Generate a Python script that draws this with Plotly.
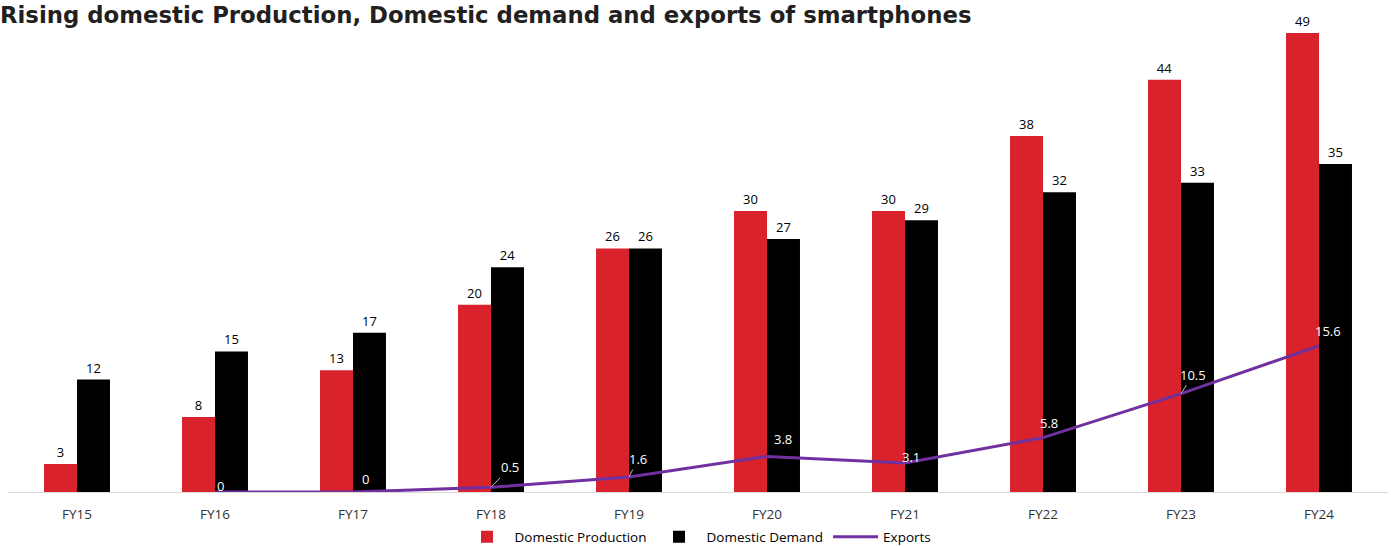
import plotly.graph_objects as go

categories = ["FY15", "FY16", "FY17", "FY18", "FY19", "FY20", "FY21", "FY22", "FY23", "FY24"]
production = [3, 8, 13, 20, 26, 30, 30, 38, 44, 49]
demand = [12, 15, 17, 24, 26, 27, 29, 32, 33, 35]
exports = [None, 0, 0, 0.5, 1.6, 3.8, 3.1, 5.8, 10.5, 15.6]
export_labels = ["", "0", "0", "0.5", "1.6", "3.8", "3.1", "5.8", "10.5", "15.6"]

# label offsets (style only)
label_dx = [0, 5, 12, 19, 9, 16, 6, 6, 12, 9]
label_dy = [0, -6, -13, -20, -18, -17, -6, -15, -19, -15]
leader = [False, False, False, True, True, False, False, False, True, False]

FONT = "Open Sans"
RED = "#DA222C"
PURPLE = "#7030A0"

fig = go.Figure()
fig.add_trace(go.Bar(
    x=categories, y=production, name="Domestic Production",
    marker=dict(color=RED, line=dict(width=0)),
    text=[str(v) for v in production], textposition="outside",
    textfont=dict(family=FONT, size=13, color="#000000"),
    cliponaxis=False,
))
fig.add_trace(go.Bar(
    x=categories, y=demand, name="Domestic Demand",
    marker=dict(color="#000000", line=dict(width=0)),
    text=[str(v) for v in demand], textposition="outside",
    textfont=dict(family=FONT, size=13, color="#000000"),
    cliponaxis=False,
))
fig.add_trace(go.Scatter(
    x=categories, y=exports, name="Exports", mode="lines",
    line=dict(color=PURPLE, width=3), cliponaxis=False,
))

for i, (c, v, t) in enumerate(zip(categories, exports, export_labels)):
    if v is None:
        continue
    if leader[i]:
        fig.add_annotation(
            x=c, y=v, text=t, showarrow=True, arrowhead=0, arrowwidth=1,
            arrowcolor="#BFBFBF", ax=label_dx[i], ay=label_dy[i],
            xanchor="center", yanchor="middle",
            font=dict(family=FONT, size=13, color="#FFFFFF"),
        )
    else:
        fig.add_annotation(
            x=c, y=v, text=t, showarrow=False,
            xshift=label_dx[i], yshift=-label_dy[i],
            xanchor="center", yanchor="middle",
            font=dict(family=FONT, size=13, color="#FFFFFF"),
        )

fig.update_layout(
    width=1391, height=546,
    margin=dict(l=8, r=3, t=10, b=54, autoexpand=False),
    paper_bgcolor="white", plot_bgcolor="white",
    barmode="group", bargap=0.522, bargroupgap=0,
    title=dict(
        text="<b>Rising domestic Production, Domestic demand and exports of smartphones</b>",
        x=0.0, xref="container", xanchor="left",
        y=0.988, yref="container", yanchor="top",
        font=dict(family="DejaVu Sans", size=22.8, color="#231F20"),
        pad=dict(t=0, l=0),
    ),
    showlegend=True,
    legend=dict(
        orientation="h", x=0.5, xanchor="center", y=-0.061, yanchor="top",
        font=dict(family=FONT, size=13.5, color="#000000"),
        traceorder="normal", itemwidth=45,
    ),
    xaxis=dict(
        type="category", showgrid=False, showline=True, linecolor="#D9D9D9",
        linewidth=1, ticks="outside", ticklen=10, tickcolor="rgba(0,0,0,0)",
        tickfont=dict(family=FONT, size=13.5, color="#333333"),
        zeroline=False,
    ),
    yaxis=dict(
        range=[0, 51.45], visible=False, showgrid=False, zeroline=False,
    ),
)

fig.write_html("out.html", config={"displayModeBar": False},
               post_script="document.body.style.margin='0';")
